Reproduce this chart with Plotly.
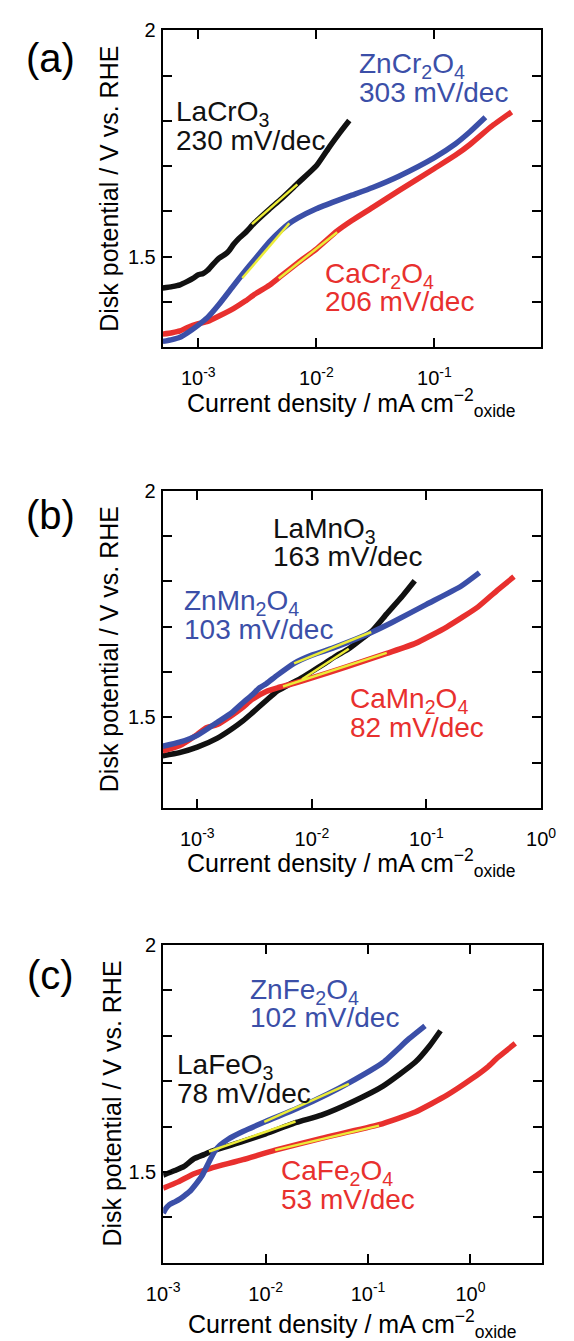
import math
import plotly.graph_objects as go

# page is shown with an 8 px body margin; the figure is sized so that it fills the window
PAGE_W, PAGE_H, OFF = 574, 1341, 8
W, H = PAGE_W - OFF, PAGE_H - OFF

# ---------------- data (current density in mA cm^-2, potential in V vs RHE) -------------
# Panel (a)
a_La_j = [5e-4, 6e-4, 7e-4, 8e-4, 9e-4, 1e-3, 1.1e-3, 1.2e-3, 1.35e-3, 1.5e-3, 1.7e-3, 1.8e-3,
          2e-3, 2.2e-3, 2.5e-3, 3e-3, 4e-3, 5e-3, 7e-3, 1e-2, 1.3e-2, 1.6e-2, 1.9e-2]
a_La_E = [1.431, 1.434, 1.438, 1.445, 1.452, 1.460, 1.463, 1.470, 1.485, 1.497, 1.506, 1.512,
          1.528, 1.540, 1.553, 1.575, 1.605, 1.627, 1.663, 1.701, 1.744, 1.776, 1.801]
a_Zn_j = [5e-4, 6e-4, 7e-4, 8e-4, 1e-3, 1.2e-3, 1.5e-3, 2e-3, 2.5e-3, 3e-3, 4e-3, 5e-3, 6e-3,
          7e-3, 1e-2, 1.5e-2, 2e-2, 3e-2, 5e-2, 0.1, 0.15, 0.2, 0.27]
a_Zn_E = [1.313, 1.317, 1.322, 1.331, 1.349, 1.366, 1.395, 1.437, 1.469, 1.494, 1.533, 1.558,
          1.575, 1.586, 1.606, 1.624, 1.636, 1.653, 1.678, 1.719, 1.749, 1.776, 1.808]
a_Ca_j = [5e-4, 6e-4, 7e-4, 8e-4, 1e-3, 1.2e-3, 1.5e-3, 2e-3, 2.5e-3, 3e-3, 4e-3, 5e-3, 7e-3,
          1e-2, 1.5e-2, 2e-2, 3e-2, 5e-2, 0.1, 0.15, 0.2, 0.3, 0.45]
a_Ca_E = [1.329, 1.332, 1.336, 1.343, 1.352, 1.357, 1.369, 1.386, 1.402, 1.417, 1.437, 1.457,
          1.487, 1.517, 1.557, 1.580, 1.609, 1.646, 1.695, 1.724, 1.748, 1.787, 1.820]
a_fit_La_j, a_fit_La_E = [2.85e-3, 6.9e-3], [1.572, 1.660]
a_fit_Zn_j, a_fit_Zn_E = [2.36e-3, 5.9e-3], [1.453, 1.574]
a_fit_Ca_j, a_fit_Ca_E = [4.8e-3, 1.5e-2], [1.452, 1.554]

# Panel (b)
b_La_j = [5e-4, 7e-4, 1e-3, 1.5e-3, 2e-3, 2.5e-3, 3e-3, 4e-3, 5e-3, 6e-3, 8e-3, 1e-2, 1.3e-2,
          1.6e-2, 2.1e-2, 2.8e-2, 3.4e-2, 4.5e-2, 6.2e-2, 7.9e-2]
b_La_E = [1.415, 1.422, 1.434, 1.454, 1.474, 1.492, 1.509, 1.537, 1.558, 1.569, 1.586, 1.601,
          1.619, 1.634, 1.651, 1.675, 1.692, 1.728, 1.768, 1.801]
b_Zn_j = [5e-4, 7e-4, 1e-3, 1.5e-3, 2e-3, 2.5e-3, 3e-3, 3.5e-3, 4e-3, 5e-3, 7e-3, 1e-2, 1.5e-2,
          2e-2, 3.3e-2, 5e-2, 0.1, 0.2, 0.29]
b_Zn_E = [1.436, 1.445, 1.460, 1.489, 1.510, 1.532, 1.549, 1.565, 1.574, 1.593, 1.619, 1.637,
          1.652, 1.664, 1.687, 1.709, 1.749, 1.789, 1.819]
b_Ca_j = [5e-4, 7e-4, 1e-3, 1.2e-3, 1.5e-3, 2e-3, 2.5e-3, 3e-3, 4e-3, 5e-3, 7e-3, 1e-2, 2e-2,
          4.5e-2, 8e-2, 0.15, 0.28, 0.41, 0.58]
b_Ca_E = [1.426, 1.437, 1.462, 1.477, 1.484, 1.504, 1.522, 1.539, 1.557, 1.565, 1.575, 1.587,
          1.611, 1.641, 1.663, 1.699, 1.743, 1.779, 1.810]
b_fit_La_j, b_fit_La_E = [8.2e-3, 2.1e-2], [1.584, 1.651]
b_fit_Zn_j, b_fit_Zn_E = [7e-3, 3.3e-2], [1.619, 1.688]
b_fit_Ca_j, b_fit_Ca_E = [5.6e-3, 4.5e-2], [1.568, 1.642]

# Panel (c)
c_La_j = [1e-3, 1.3e-3, 1.6e-3, 2e-3, 2.5e-3, 3e-3, 6e-3, 1e-2, 2e-2, 3.5e-2, 7e-2, 0.14,
          0.29, 0.4, 0.51]
c_La_E = [1.493, 1.503, 1.512, 1.529, 1.538, 1.546, 1.567, 1.584, 1.609, 1.625, 1.654, 1.689,
          1.742, 1.778, 1.811]
c_Zn_j = [1e-3, 1.05e-3, 1.15e-3, 1.3e-3, 1.45e-3, 1.6e-3, 1.8e-3, 2.1e-3, 2.4e-3, 2.8e-3,
          3.2e-3, 3.6e-3, 4.3e-3, 6e-3, 1e-2, 2e-2, 4e-2, 6.5e-2, 0.14, 0.25, 0.36]
c_Zn_E = [1.409, 1.418, 1.428, 1.434, 1.440, 1.447, 1.456, 1.474, 1.492, 1.522, 1.546, 1.559,
          1.572, 1.589, 1.611, 1.639, 1.671, 1.696, 1.741, 1.793, 1.822]
c_Ca_j = [1e-3, 1.4e-3, 2e-3, 2.9e-3, 6e-3, 1.24e-2, 3.5e-2, 0.128, 0.29, 0.59, 1.03, 1.47,
          1.85, 2.74]
c_Ca_E = [1.464, 1.478, 1.496, 1.508, 1.527, 1.548, 1.574, 1.604, 1.632, 1.669, 1.705, 1.731,
          1.752, 1.783]
c_fit_La_j, c_fit_La_E = [2.8e-3, 1.96e-2], [1.545, 1.611]
c_fit_Zn_j, c_fit_Zn_E = [9.7e-3, 6.5e-2], [1.610, 1.694]
c_fit_Ca_j, c_fit_Ca_E = [1.24e-2, 0.128], [1.548, 1.602]

# axis ranges / ticks
x_ranges = [[5e-4, 0.8], [5e-4, 1.0], [1e-3, 5.0]]
x_tickvals = [[1e-3, 1e-2, 1e-1], [1e-3, 1e-2, 1e-1, 1.0], [1e-3, 1e-2, 1e-1, 1.0]]
x_ticktext = [["10<sup>-3</sup>", "10<sup>-2</sup>", "10<sup>-1</sup>"],
              ["10<sup>-3</sup>", "10<sup>-2</sup>", "10<sup>-1</sup>", "10<sup>0</sup>"],
              ["10<sup>-3</sup>", "10<sup>-2</sup>", "10<sup>-1</sup>", "10<sup>0</sup>"]]
y_range = [1.3, 2.0]
y_tickvals = [1.3, 1.4, 1.5, 1.6, 1.7, 1.8, 1.9, 2.0]
y_ticktext = ["", "", "1.5", "", "", "", "", "2"]

labels = [
    [("LaCrO<sub>3</sub>", "230 mV/dec", "k", 167, 110),
     ("ZnCr<sub>2</sub>O<sub>4</sub>", "303 mV/dec", "b", 361, 62),
     ("CaCr<sub>2</sub>O<sub>4</sub>", "206 mV/dec", "r", 325, 273)],
    [("LaMnO<sub>3</sub>", "163 mV/dec", "k", 270, 530),
     ("ZnMn<sub>2</sub>O<sub>4</sub>", "103 mV/dec", "b", 175, 603),
     ("CaMn<sub>2</sub>O<sub>4</sub>", "82 mV/dec", "r", 351, 702)],
    [("ZnFe<sub>2</sub>O<sub>4</sub>", "102 mV/dec", "b", 245, 995),
     ("LaFeO<sub>3</sub>", "78 mV/dec", "k", 168, 1071),
     ("CaFe<sub>2</sub>O<sub>4</sub>", "53 mV/dec", "r", 278, 1178)],
]
panel_letters = ["(a)", "(b)", "(c)"]

# ---------------- styling / layout (positions in page pixels) ----------------
FONT = "Liberation Sans, Arial, Helvetica, sans-serif"
COL = {"k": "#111111", "b": "#3b4fa8", "r": "#e8302e"}
YEL = "#ecec38"
LW = 5.5

boxes = [(154, 19.5, 555, 339), (154, 483.5, 555, 803.5), (154.5, 941.7, 556, 1262)]
letter_pos = [(35, 47), (35, 508), (35, 972)]
ytitle_x = [97, 97, 100]
xtitle_base = [407, 870, 1335]


def px(x):
    return (x - OFF) / W


def py(y):
    return 1 - (y - OFF) / H


series = [
    [(a_La_j, a_La_E, "k"), (a_Ca_j, a_Ca_E, "r"), (a_Zn_j, a_Zn_E, "b")],
    [(b_La_j, b_La_E, "k"), (b_Ca_j, b_Ca_E, "r"), (b_Zn_j, b_Zn_E, "b")],
    [(c_La_j, c_La_E, "k"), (c_Ca_j, c_Ca_E, "r"), (c_Zn_j, c_Zn_E, "b")],
]
fits = [
    [(a_fit_La_j, a_fit_La_E), (a_fit_Zn_j, a_fit_Zn_E), (a_fit_Ca_j, a_fit_Ca_E)],
    [(b_fit_La_j, b_fit_La_E), (b_fit_Zn_j, b_fit_Zn_E), (b_fit_Ca_j, b_fit_Ca_E)],
    [(c_fit_La_j, c_fit_La_E), (c_fit_Zn_j, c_fit_Zn_E), (c_fit_Ca_j, c_fit_Ca_E)],
]

fig = go.Figure()
layout = dict(width=W, height=H, margin=dict(l=0, r=0, t=0, b=0),
              paper_bgcolor="white", plot_bgcolor="white", showlegend=False,
              font=dict(family=FONT, color="black"))
annotations = []

for i in range(3):
    xa = "x" if i == 0 else f"x{i+1}"
    ya = "y" if i == 0 else f"y{i+1}"
    for xs, ys, c in series[i]:
        fig.add_trace(go.Scatter(x=xs, y=ys, mode="lines", xaxis=xa, yaxis=ya,
                                 line=dict(color=COL[c], width=LW, shape="spline", smoothing=0.5),
                                 hoverinfo="skip"))
    for xs, ys in fits[i]:
        fig.add_trace(go.Scatter(x=xs, y=ys, mode="lines", xaxis=xa, yaxis=ya,
                                 line=dict(color=YEL, width=2.5), hoverinfo="skip"))
    l, t, r, b = boxes[i]
    axis_common = dict(showline=True, linewidth=2, linecolor="black", mirror="allticks",
                       ticks="inside", ticklen=9, tickwidth=2, tickcolor="black",
                       showgrid=False, zeroline=False,
                       tickfont=dict(family=FONT, size=20, color="black"))
    layout["xaxis" if i == 0 else f"xaxis{i+1}"] = dict(
        axis_common, type="log", domain=[px(l), px(r)], anchor=ya,
        range=[math.log10(x_ranges[i][0]), math.log10(x_ranges[i][1])],
        tickmode="array", tickvals=x_tickvals[i], ticktext=x_ticktext[i],
        ticklabelstandoff=12)
    layout["yaxis" if i == 0 else f"yaxis{i+1}"] = dict(
        axis_common, domain=[py(b), py(t)], anchor=xa, range=y_range,
        tickmode="array", tickvals=y_tickvals, ticktext=y_ticktext,
        ticklabelstandoff=1)

    # curve labels (name line + slope line)
    for name, slope, c, x0, base in labels[i]:
        fs = 28
        annotations.append(dict(text=name, x=px(x0), y=py(base - 0.905 * fs), xref="paper",
                                yref="paper", xanchor="left", yanchor="top", showarrow=False,
                                borderpad=0, font=dict(family=FONT, size=fs, color=COL[c])))
        annotations.append(dict(text=slope, x=px(x0), y=py(base + 29 - 0.905 * fs), xref="paper",
                                yref="paper", xanchor="left", yanchor="top", showarrow=False,
                                borderpad=0, font=dict(family=FONT, size=fs, color=COL[c])))
    # panel letter
    annotations.append(dict(text=panel_letters[i], x=px(letter_pos[i][0]), y=py(letter_pos[i][1]),
                            xref="paper", yref="paper", xanchor="center", yanchor="middle",
                            showarrow=False, borderpad=0, font=dict(family=FONT, size=40)))
    # y title
    annotations.append(dict(text="Disk potential / V vs. RHE", textangle=-90,
                            x=px(ytitle_x[i]), y=py((t + b) / 2), xref="paper", yref="paper",
                            xanchor="center", yanchor="middle", showarrow=False, borderpad=0,
                            font=dict(family=FONT, size=25)))
    # x title
    annotations.append(dict(text="Current density / mA cm<sup>\u22122</sup><sub>oxide</sub>",
                            x=px((l + r) / 2), y=py(xtitle_base[i] - 0.905 * 25 - 8),
                            xref="paper", yref="paper", xanchor="center", yanchor="top",
                            showarrow=False, borderpad=0, font=dict(family=FONT, size=25)))

layout["annotations"] = annotations
fig.update_layout(**layout)
fig.write_html("out.html")
